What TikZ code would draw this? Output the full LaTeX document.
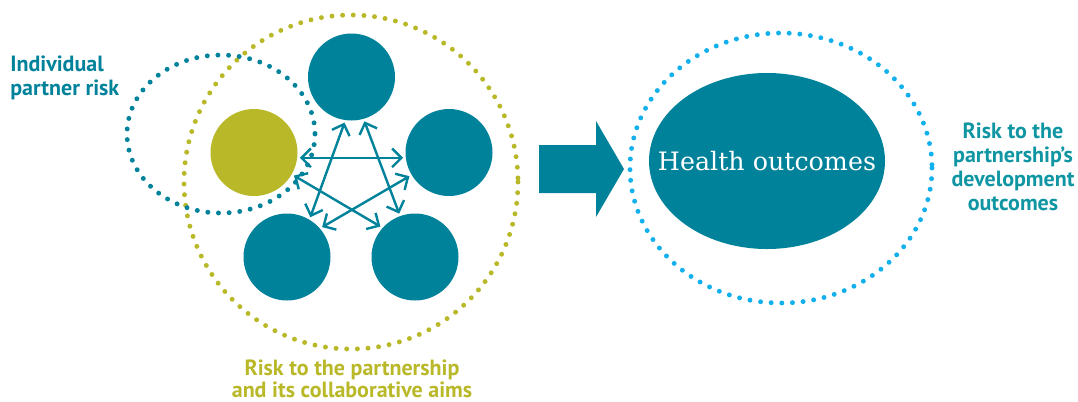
\documentclass[tikz,border=0pt]{standalone}
\usepackage{fontspec}
\newfontfamily\lblfont{PT Sans}
\newfontfamily\hserif{DejaVu Serif}
\usetikzlibrary{arrows.meta,shapes.geometric}
\definecolor{teal1}{HTML}{00829B}
\definecolor{olive1}{HTML}{B8B829}
\definecolor{sky1}{HTML}{12B0EC}
\definecolor{tealtxt}{HTML}{0F96A2}
\begin{document}
\begin{tikzpicture}[x=0.75pt,y=-0.75pt,
  disc/.style={circle,minimum size=65.25pt,inner sep=0pt,outer sep=0pt},
  dotline/.style={line width=3.7pt,line cap=round,dash pattern=on 0pt off 8pt},
  link/.style={teal1,line width=1.8pt,shorten <=2pt,shorten >=2pt,
    {Straight Barb[length=7pt,width=14pt]}-{Straight Barb[length=7pt,width=14pt]}},
  lbl/.style={font=\lblfont\bfseries\fontsize{16.5pt}{18pt}\selectfont,inner sep=0pt}
]
\useasboundingbox (0,0) rectangle (1078,401);

% partnership circles
\node[disc,fill=teal1]  (top) at (351.5,77) {};
\node[disc,fill=teal1]  (rt)  at (449,152.5) {};
\node[disc,fill=olive1] (ol)  at (254,152.5) {};
\node[disc,fill=teal1]  (bl)  at (287,257) {};
\node[disc,fill=teal1]  (br)  at (415,257) {};

% star links
\draw[link] (top.-98) -- (bl.59);
\draw[link] (top.-74) -- (br.110);
\draw[link] (ol.-7) -- (rt.187);
\draw[link] (rt.211) -- (bl.41);
\draw[link] (ol.-30) -- (br.138);

% dotted boundaries
\draw[olive1,dotline] (351,182) circle [radius=167];
\draw[teal1,dotline] (221,134) ellipse [x radius=94, y radius=79];

% block arrow
\fill[teal1] (539,145) -- (596,145) -- (596,121) -- (624,169) -- (596,217) -- (596,193) -- (539,193) -- cycle;

% outcomes
\node[ellipse,fill=teal1,minimum width=177pt,minimum height=132pt,inner sep=0pt] (health) at (767,161) {};
\node[text=white,inner sep=0pt,font=\hserif\fontsize{19pt}{20pt}\selectfont] (htext) at (health.center) {Health outcomes};
\draw[sky1,dotline] (781,168) ellipse [x radius=151, y radius=135];

% labels
\node[lbl,text=teal1,align=left,anchor=north west] (ind) at (10,56) {Individual\\partner risk};
\node[lbl,text=tealtxt,align=center,anchor=north] (dev) at (1013,123) {Risk to the\\partnership’s\\development\\outcomes};
\node[lbl,text=olive1,align=center,anchor=north,font=\lblfont\bfseries\fontsize{16.5pt}{16.5pt}\selectfont] (part) at (352,360) {Risk to the partnership\\and its collaborative aims};
\end{tikzpicture}
\end{document}
